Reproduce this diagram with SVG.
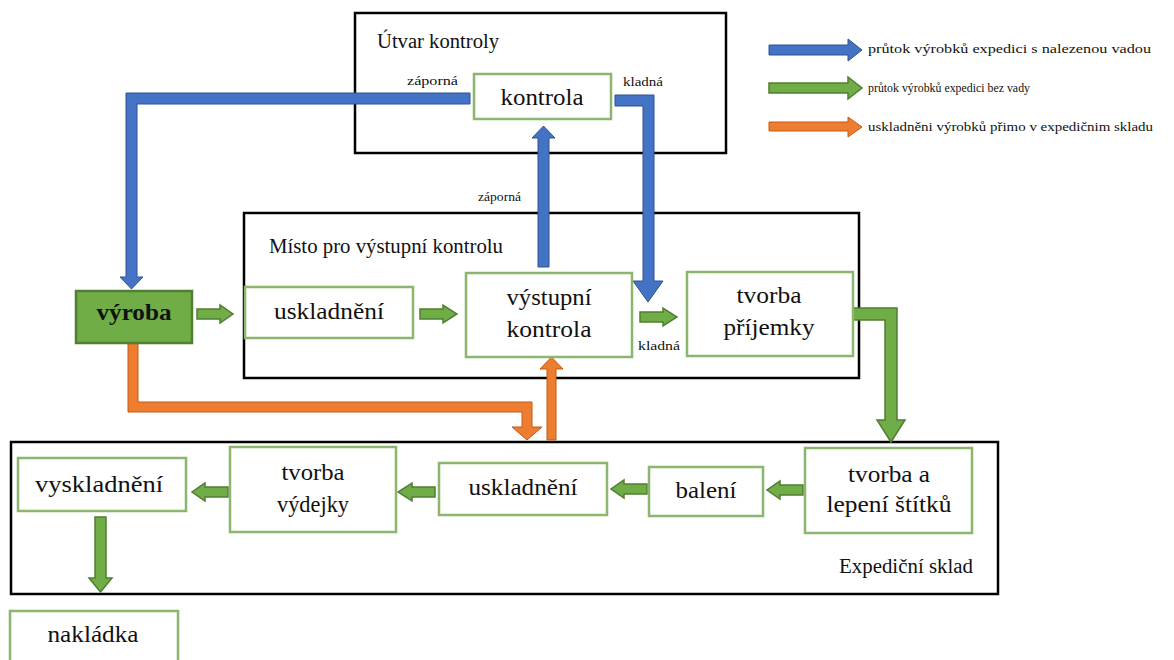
<svg xmlns="http://www.w3.org/2000/svg" width="1174" height="660" viewBox="0 0 1174 660">
<style>
.bg{fill:#ffffff}
.cont{fill:none;stroke:#000;stroke-width:2.5}
.node{fill:#ffffff;stroke:#8CB56E;stroke-width:2.5}
.prod{fill:#70AD47;stroke:#507E32;stroke-width:2.5}
.lbl{font-family:"Liberation Serif","DejaVu Serif","Noto Serif",serif;font-size:24px;fill:#111;text-anchor:middle}
.bold{font-weight:bold}
.title{font-family:"Liberation Serif","DejaVu Serif","Noto Serif",serif;font-size:20px;fill:#111}
.small{font-family:"Liberation Serif","DejaVu Serif","Noto Serif",serif;font-size:12px;fill:#111}
.leg{font-family:"Liberation Serif","DejaVu Serif","Noto Serif",serif;font-size:13px;fill:#111}
.blue{fill:#4472C4;stroke:#2F528F;stroke-width:1}
.green{fill:#70AD47;stroke:#507E32;stroke-width:1.5}
.orange{fill:#ED7D31;stroke:#C55A11;stroke-width:1}
</style>
<rect class="bg" x="0" y="0" width="1174" height="660"/>

<g id="containers">
  <g id="utvar-kontroly">
    <rect class="cont" x="355" y="13" width="371" height="140"/>
    <text class="title" x="377" y="48" textLength="122" lengthAdjust="spacingAndGlyphs">Útvar kontroly</text>
  </g>
  <g id="misto-kontroly">
    <rect class="cont" x="244" y="213" width="615" height="165"/>
    <text class="title" x="269" y="253" textLength="234" lengthAdjust="spacingAndGlyphs">Místo pro výstupní kontrolu</text>
  </g>
  <g id="expedicni-sklad">
    <rect class="cont" x="11" y="442" width="987" height="152"/>
    <text class="title" x="839" y="573" textLength="134" lengthAdjust="spacingAndGlyphs">Expediční sklad</text>
  </g>
</g>

<g id="connectors">
  <path class="blue" d="M470,93 L126,93 L126,277 L120,277 L131.5,289 L143,277 L137,277 L137,104 L470,104 Z"/>
  <path class="blue" d="M615,95 L654,95 L654,281 L663,281 L648,302 L633,281 L643,281 L643,106 L615,106 Z"/>
  <path class="blue" d="M538,267 L538,138 L532,138 L543.5,126 L555,138 L549,138 L549,267 Z"/>
  <path class="orange" d="M128,343 L128,412 L522,412 L522,427 L512,427 L527,440 L542,427 L532,427 L532,402 L138,402 L138,343 Z"/>
  <path class="orange" d="M547,440 L547,369 L540,369 L551.5,357 L563,369 L556,369 L556,440 Z"/>
  <path class="green" d="M197,309 L220,309 L220,305 L233,314 L220,323 L220,319 L197,319 Z"/>
  <path class="green" d="M420,309 L443,309 L443,305 L457,314 L443,323 L443,319 L420,319 Z"/>
  <path class="green" d="M640,312 L663,312 L663,308 L677,317 L663,326 L663,322 L640,322 Z"/>
  <path class="green" d="M853,308 L897,308 L897,420 L905,420 L891,442 L877,420 L885,420 L885,320 L853,320 Z"/>
  <path class="green" d="M803,485 L780,485 L780,481 L767,490 L780,499 L780,495 L803,495 Z"/>
  <path class="green" d="M647,484 L624,484 L624,480 L611,489 L624,498 L624,494 L647,494 Z"/>
  <path class="green" d="M435,487 L412,487 L412,483 L398,492 L412,501 L412,497 L435,497 Z"/>
  <path class="green" d="M228,487 L205,487 L205,483 L192,492 L205,501 L205,497 L228,497 Z"/>
  <path class="green" d="M95,517 L106,517 L106,578 L112,578 L100.5,592 L89,578 L95,578 Z"/>
  <text class="small" x="407" y="85" textLength="51" lengthAdjust="spacingAndGlyphs">záporná</text>
  <text class="small" x="623" y="86" textLength="40" lengthAdjust="spacingAndGlyphs">kladná</text>
  <text class="small" x="478" y="201" textLength="43" lengthAdjust="spacingAndGlyphs">záporná</text>
  <text class="small" x="638" y="350" textLength="42" lengthAdjust="spacingAndGlyphs">kladná</text>
</g>

<g id="kontrola">
  <rect class="node" x="474" y="74" width="137" height="45"/>
  <text class="lbl" x="542" y="105" textLength="83" lengthAdjust="spacingAndGlyphs">kontrola</text>
</g>
<g id="vyroba">
  <rect class="prod" x="76" y="291" width="116" height="52"/>
  <text class="lbl bold" x="134" y="320" textLength="75" lengthAdjust="spacingAndGlyphs">výroba</text>
</g>
<g id="uskladneni-1">
  <rect class="node" x="245" y="287" width="168" height="51"/>
  <text class="lbl" x="329" y="319" textLength="110" lengthAdjust="spacingAndGlyphs">uskladnění</text>
</g>
<g id="vystupni-kontrola">
  <rect class="node" x="466" y="273" width="166" height="84"/>
  <text class="lbl" x="549" y="305" textLength="85" lengthAdjust="spacingAndGlyphs">výstupní</text>
  <text class="lbl" x="549" y="337" textLength="85" lengthAdjust="spacingAndGlyphs">kontrola</text>
</g>
<g id="tvorba-prijemky">
  <rect class="node" x="687" y="272" width="166" height="84"/>
  <text class="lbl" x="769" y="303" textLength="65" lengthAdjust="spacingAndGlyphs">tvorba</text>
  <text class="lbl" x="769" y="335" textLength="91" lengthAdjust="spacingAndGlyphs">příjemky</text>
</g>
<g id="tvorba-stitku">
  <rect class="node" x="805" y="448" width="167" height="85"/>
  <text class="lbl" x="889" y="482" textLength="82" lengthAdjust="spacingAndGlyphs">tvorba a</text>
  <text class="lbl" x="889" y="512" textLength="125" lengthAdjust="spacingAndGlyphs">lepení štítků</text>
</g>
<g id="baleni">
  <rect class="node" x="649" y="467" width="114" height="49"/>
  <text class="lbl" x="706" y="498" textLength="61" lengthAdjust="spacingAndGlyphs">balení</text>
</g>
<g id="uskladneni-2">
  <rect class="node" x="439" y="463" width="168" height="52"/>
  <text class="lbl" x="523" y="495" textLength="109" lengthAdjust="spacingAndGlyphs">uskladnění</text>
</g>
<g id="tvorba-vydejky">
  <rect class="node" x="230" y="447" width="166" height="85"/>
  <text class="lbl" x="313" y="480" textLength="63" lengthAdjust="spacingAndGlyphs">tvorba</text>
  <text class="lbl" x="313" y="512" textLength="72" lengthAdjust="spacingAndGlyphs">výdejky</text>
</g>
<g id="vyskladneni">
  <rect class="node" x="18" y="458" width="168" height="53"/>
  <text class="lbl" x="99" y="492" textLength="128" lengthAdjust="spacingAndGlyphs">vyskladnění</text>
</g>
<g id="nakladka">
  <rect class="node" x="10" y="611" width="168" height="60"/>
  <text class="lbl" x="93" y="642" textLength="91" lengthAdjust="spacingAndGlyphs">nakládka</text>
</g>

<g id="legend">
  <path class="blue" d="M769,45 L848,45 L848,39 L862,50 L848,61 L848,55 L769,55 Z"/>
  <text class="leg" x="868" y="53" textLength="283" lengthAdjust="spacingAndGlyphs">průtok výrobků expedici s nalezenou vadou</text>
  <path class="green" d="M769,83 L848,83 L848,77 L862,88 L848,99 L848,93 L769,93 Z"/>
  <text class="leg" x="868" y="92" textLength="162" lengthAdjust="spacingAndGlyphs">průtok výrobků expedici bez vady</text>
  <path class="orange" d="M769,122 L848,122 L848,117 L862,127 L848,137 L848,131 L769,131 Z"/>
  <text class="leg" x="868" y="131" textLength="285" lengthAdjust="spacingAndGlyphs">uskladněni výrobků přimo v expedičnim skladu</text>
</g>
</svg>
